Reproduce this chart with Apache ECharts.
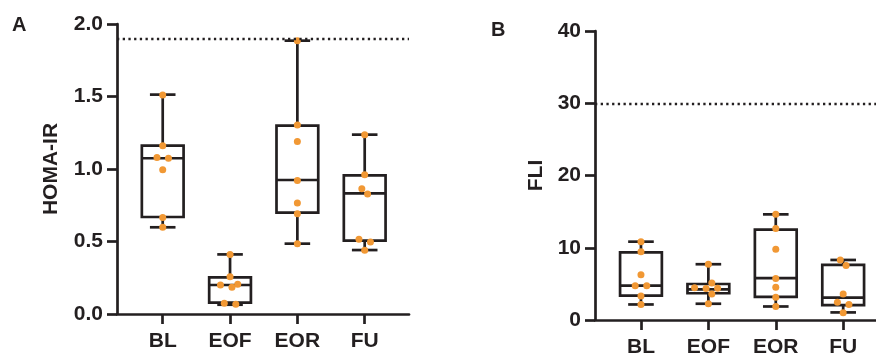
<!DOCTYPE html>
<html>
<head>
<meta charset="utf-8">
<script src="https://cdn.jsdelivr.net/npm/echarts@6/dist/echarts.min.js"></script>
<style>
  html, body { margin: 0; background: #fff; }
  #chart { width: 876px; height: 358px; }
</style>
</head>
<body>
<div id="chart"></div>
<script>
// Box plots with individual points, two panels (HOMA-IR and FLI).

const categories = ['BL', 'EOF', 'EOR', 'FU']

// box stats per group: [min, q1, median, q3, max]
const homaBoxes = [
  [0.598, 0.669, 1.074, 1.161, 1.513],
  [0.064, 0.078, 0.200, 0.253, 0.411],
  [0.485, 0.699, 0.924, 1.299, 1.885],
  [0.441, 0.506, 0.832, 0.956, 1.237],
]
const homaPoints = [
  [1.51, 1.16, 1.08, 1.075, 0.995, 0.665, 0.598],
  [0.411, 0.257, 0.205, 0.2, 0.184, 0.074, 0.067],
  [1.885, 1.303, 1.189, 0.92, 0.766, 0.692, 0.485],
  [1.237, 0.96, 0.864, 0.828, 0.515, 0.497, 0.439],
]
const homaCutoff = 1.9
const homaTicks = [0, 0.5, 1.0, 1.5, 2.0]

const fliBoxes = [
  [2.15, 3.38, 4.75, 9.37, 10.84],
  [2.25, 3.7, 4.25, 4.98, 7.72],
  [1.87, 3.2, 5.8, 12.52, 14.62],
  [1.05, 2.06, 3.1, 7.63, 8.31],
]
const fliPoints = [
  [10.84, 9.46, 6.26, 4.75, 4.75, 3.33, 2.14],
  [7.72, 5.12, 4.45, 4.4, 4.35, 3.6, 2.25],
  [14.62, 12.66, 9.78, 5.75, 4.52, 3.15, 1.87],
  [8.31, 7.54, 3.6, 2.47, 2.14, 1.0],
]
const fliCutoff = 30
const fliTicks = [0, 10, 20, 30, 40]

const ink = '#231f20'
const dot = '#f19834'
const font = '"Liberation Sans", Arial, sans-serif'
const LW = 2.7

const panels = [
  { grid: { left: 117, top: 24, width: 292, height: 290 }, xMin: -0.679, xMax: 3.658,
    ticks: homaTicks, name: 'HOMA-IR', nameGap: 55, digits: 1,
    boxes: homaBoxes, points: homaPoints, cutoff: homaCutoff },
  { grid: { left: 595, top: 31, width: 281, height: 291 }, xMin: -0.682, xMax: 3.487,
    ticks: fliTicks, name: 'FLI', nameGap: 48, digits: 0,
    boxes: fliBoxes, points: fliPoints, cutoff: fliCutoff },
]

// simple beeswarm: greedy placement, then centre each cluster of touching points
function swarm(values, pxPerY) {
  const STEP = 5.75, DIAM = 6.5
  const order = values.map((v, i) => i).sort((a, b) => values[a] - values[b])
  const placed = []
  const offs = new Array(values.length).fill(0)
  for (const i of order) {
    const py = values[i] * pxPerY
    for (let k = 0; k < 20; k++) {
      const m = k === 0 ? 0 : (k % 2 ? -1 : 1) * Math.ceil(k / 2)
      const ox = m * STEP
      if (placed.every((p) => Math.hypot(p.ox - ox, p.py - py) >= DIAM)) {
        placed.push({ i, ox, py })
        offs[i] = ox
        break
      }
    }
  }
  let cluster = []
  const flush = () => {
    if (cluster.length > 1) {
      const mean = cluster.reduce((s, p) => s + p.ox, 0) / cluster.length
      cluster.forEach((p) => (offs[p.i] = p.ox - mean))
    }
    cluster = []
  }
  placed.forEach((p, n) => {
    if (n > 0 && p.py - placed[n - 1].py >= DIAM) flush()
    cluster.push(p)
  })
  flush()
  return offs
}

function renderBox(params, api) {
  const BOX = 0.31, CAP = 0.19
  const x = api.value(0)
  const [lo, q1, med, q3, hi] = [1, 2, 3, 4, 5].map((d) => api.value(d))
  const pt = (dx, v) => api.coord([x + dx, v])
  const style = { stroke: ink, lineWidth: LW, fill: 'none' }
  const line = (a, b) => ({ type: 'line', shape: { x1: a[0], y1: a[1], x2: b[0], y2: b[1] }, style })
  const tl = pt(-BOX, q3)
  const br = pt(BOX, q1)
  return {
    type: 'group',
    children: [
      line(pt(0, hi), pt(0, q3)),
      line(pt(0, q1), pt(0, lo)),
      line(pt(-CAP, hi), pt(CAP, hi)),
      line(pt(-CAP, lo), pt(CAP, lo)),
      { type: 'rect', shape: { x: tl[0], y: tl[1], width: br[0] - tl[0], height: br[1] - tl[1] }, style },
      line(pt(-BOX, med), pt(BOX, med)),
    ],
  }
}

const textBase = { color: ink, fontFamily: font, fontWeight: 'bold', fontSize: 21 }

const option = {
  backgroundColor: '#fff',
  animation: false,
  grid: panels.map((p) => p.grid),
  xAxis: panels.map((p, gi) => ({
    type: 'value',
    gridIndex: gi,
    min: p.xMin,
    max: p.xMax,
    splitLine: { show: false },
    axisLine: { onZero: false, lineStyle: { color: ink, width: LW } },
    axisTick: { customValues: [0, 1, 2, 3], length: 10, lineStyle: { color: ink, width: LW } },
    axisLabel: { customValues: [0, 1, 2, 3], formatter: (v) => categories[Math.round(v)], margin: 17, ...textBase },
  })),
  yAxis: panels.map((p, gi) => ({
    type: 'value',
    gridIndex: gi,
    min: p.ticks[0],
    max: p.ticks[p.ticks.length - 1],
    interval: p.ticks[1] - p.ticks[0],
    name: p.name,
    nameLocation: 'middle',
    nameGap: p.nameGap,
    nameTextStyle: textBase,
    splitLine: { show: false },
    axisLine: { show: true, onZero: false, lineStyle: { color: ink, width: LW } },
    axisTick: { show: true, length: 10, lineStyle: { color: ink, width: LW } },
    axisLabel: { formatter: (v) => v.toFixed(p.digits), margin: 14, ...textBase },
  })),
  series: panels.flatMap((p, gi) => {
    const pxPerX = p.grid.width / (p.xMax - p.xMin)
    const pxPerY = p.grid.height / (p.ticks[p.ticks.length - 1] - p.ticks[0])
    const pts = p.points.flatMap((vals, ci) => {
      const offs = swarm(vals, pxPerY)
      return vals.map((v, k) => [ci + offs[k] / pxPerX, v])
    })
    return [
      {
        type: 'custom',
        xAxisIndex: gi,
        yAxisIndex: gi,
        renderItem: renderBox,
        encode: { x: 0, y: [1, 2, 3, 4, 5] },
        data: p.boxes.map((b, ci) => [ci, ...b]),
        z: 2,
        silent: true,
      },
      {
        type: 'scatter',
        xAxisIndex: gi,
        yAxisIndex: gi,
        data: pts,
        symbolSize: 7,
        itemStyle: { color: dot, opacity: 1 },
        z: 3,
        silent: true,
        markLine: {
          silent: true,
          symbol: ['none', 'none'],
          label: { show: false },
          lineStyle: { color: ink, width: 2.3, type: [2.3, 3.4], cap: 'butt' },
          data: [{ yAxis: p.cutoff }],
        },
      },
    ]
  }),
  graphic: [
    { type: 'text', left: 12, top: 15, style: { text: 'A', font: 'bold 20px ' + font, fill: ink } },
    { type: 'text', left: 491, top: 20, style: { text: 'B', font: 'bold 20px ' + font, fill: ink } },
  ],
}

const chart = echarts.init(document.getElementById('chart'), null, { renderer: 'canvas' })
chart.setOption(option)
</script>
</body>
</html>
